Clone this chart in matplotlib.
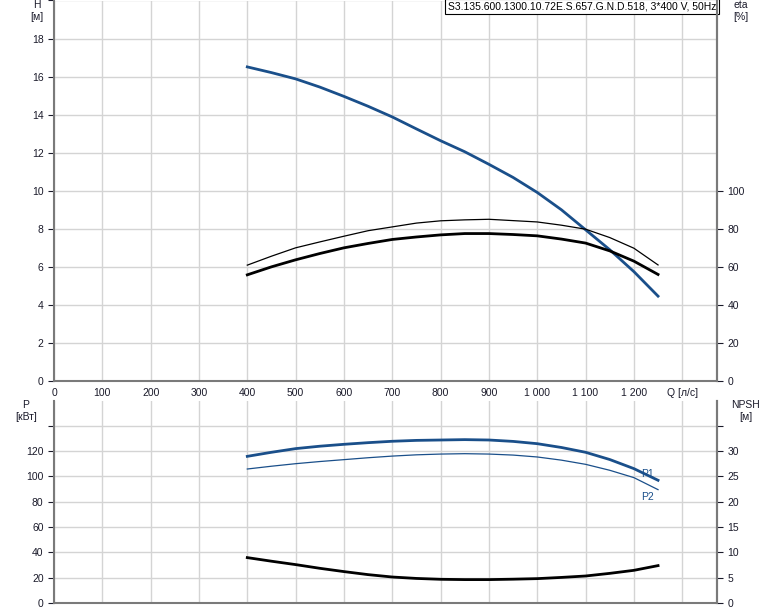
import matplotlib
matplotlib.use("Agg")
import matplotlib.pyplot as plt
import numpy as np

plt.rcParams['font.family'] = ['Liberation Sans', 'DejaVu Sans']

# ---- data ----
q = [400, 450, 500, 550, 600, 650, 700, 750, 800, 850, 900, 950,
     1000, 1050, 1100, 1150, 1200, 1250]
head = [16.51, 16.21, 15.88, 15.45, 14.96, 14.44, 13.88, 13.25, 12.63, 12.05,
        11.39, 10.7, 9.91, 9.0, 7.95, 6.9, 5.75, 4.46]
eta_thick = [55.8, 60.0, 63.7, 67.0, 70.0, 72.3, 74.4, 75.7, 76.8, 77.5,
             77.5, 77.0, 76.3, 74.6, 72.5, 68.4, 63.0, 56.0]
eta_thin = [60.9, 65.6, 70.0, 73.1, 76.1, 79.0, 81.0, 83.0, 84.2, 84.7,
            85.0, 84.3, 83.6, 81.9, 79.8, 75.4, 69.8, 61.0]
p1 = [115.8, 119.0, 121.9, 123.8, 125.3, 126.6, 127.7, 128.4, 128.7, 129.0,
      128.7, 127.6, 125.8, 122.8, 119.0, 113.3, 106.1, 96.9]
p2 = [105.8, 108.0, 110.0, 111.7, 113.2, 114.7, 116.0, 117.0, 117.6, 117.9,
      117.6, 116.8, 115.3, 112.8, 109.5, 104.8, 99.0, 89.5]
npsh = [8.96, 8.25, 7.58, 6.85, 6.2, 5.6, 5.13, 4.85, 4.68, 4.62,
        4.62, 4.7, 4.81, 5.05, 5.33, 5.85, 6.45, 7.38]

x_ticks = list(range(0, 1300, 100))
h_ticks = list(range(0, 20, 2))
eta_ticks = list(range(0, 120, 20))
p_ticks = list(range(0, 160, 20))
npsh_ticks = list(range(0, 40, 5))
title = "S3.135.600.1300.10.72E.S.657.G.N.D.518, 3*400 V, 50Hz"

blue = '#1a4f8a'
grid_c = '#d4d4d4'
spine_c = '#7a7a7a'
txt_c = '#1a1a2a'
fs = 7.5

def fmt_thousands(v):
    return f"{int(v):,}".replace(",", " ")

fig = plt.figure(figsize=(7.74, 6.11), dpi=100)
W, H = 774, 611
L, R = 54 / W, 717 / W
ax1 = fig.add_axes([L, 1 - 381 / H, R - L, 381 / H - 0.5 / H])
ax2 = fig.add_axes([L, 1 - 603 / H, R - L, (603 - 401) / H])

xmax = 1372
for ax in (ax1, ax2):
    ax.set_xlim(0, xmax)
    ax.set_xticks(x_ticks + [1300])
    ax.grid(True, color=grid_c, linewidth=1.0)
    ax.set_axisbelow(True)
    ax.spines['top'].set_visible(False)
    for s in ('left', 'right', 'bottom'):
        ax.spines[s].set_color(spine_c)
        ax.spines[s].set_linewidth(1.5)
    ax.tick_params(axis='both', labelsize=fs, colors=txt_c, length=4, width=0.8)
    ax.tick_params(axis='x', length=0)

# top axes
ax1.set_ylim(0, 20)
ax1.set_yticks(h_ticks + [20])
ax1.set_yticklabels([str(t) for t in h_ticks] + [''])
labels = [fmt_thousands(t) for t in x_ticks] + ['Q [л/с]']
ax1.set_xticklabels(labels)
ax1.tick_params(axis='x', pad=5)
ax1.plot(q, head, color=blue, linewidth=2.0)

ax1r = ax1.twinx()
ax1r.set_ylim(0, 200)
ax1r.set_yticks(eta_ticks)
ax1r.tick_params(axis='y', labelsize=fs, colors=txt_c, length=4, width=0.8)
for s in ('top', 'left', 'bottom'):
    ax1r.spines[s].set_visible(False)
ax1r.spines['right'].set_color(spine_c)
ax1r.spines['right'].set_linewidth(1.5)
ax1r.plot(q, eta_thick, color='black', linewidth=2.0)
ax1r.plot(q, eta_thin, color='black', linewidth=0.9)

ax1.text(0.9985, 0.997, title, transform=ax1.transAxes, ha='right', va='top',
         fontsize=fs, color='black',
         bbox=dict(boxstyle='square,pad=0.25', facecolor='white', edgecolor='black', linewidth=0.8))

# bottom axes
ax2.set_ylim(0, 159.5)
ax2.set_yticks(p_ticks)
ax2.set_yticklabels([str(t) for t in p_ticks[:-1]] + [''])
ax2.set_xticklabels([])
ax2.plot(q, p1, color=blue, linewidth=2.0)
ax2.plot(q, p2, color=blue, linewidth=0.9)
ax2.text(1228, 102, 'P1', color=blue, fontsize=fs, va='center', ha='center')
ax2.text(1228, 84, 'P2', color=blue, fontsize=fs, va='center', ha='center')

ax2r = ax2.twinx()
ax2r.set_ylim(0, 159.5 / 4)
ax2r.set_yticks(npsh_ticks)
ax2r.set_yticklabels([str(t) for t in npsh_ticks[:-1]] + [''])
ax2r.tick_params(axis='y', labelsize=fs, colors=txt_c, length=4, width=0.8)
for s in ('top', 'left', 'bottom'):
    ax2r.spines[s].set_visible(False)
ax2r.spines['right'].set_color(spine_c)
ax2r.spines['right'].set_linewidth(1.5)
ax2r.plot(q, npsh, color='black', linewidth=2.0)

# axis titles
fig.text(37 / W, 1 - 11 / H, 'H\n[м]', ha='center', va='center', fontsize=fs, linespacing=1.2, color=txt_c)
fig.text(741 / W, 1 - 11 / H, 'eta\n[%]', ha='center', va='center', fontsize=fs, linespacing=1.2, color=txt_c)
fig.text(26 / W, 1 - 411 / H, 'P\n[кВт]', ha='center', va='center', fontsize=fs, linespacing=1.2, color=txt_c)
fig.text(746 / W, 1 - 411 / H, 'NPSH\n[м]', ha='center', va='center', fontsize=fs, linespacing=1.2, color=txt_c)

fig.savefig('out.png', dpi=100)
